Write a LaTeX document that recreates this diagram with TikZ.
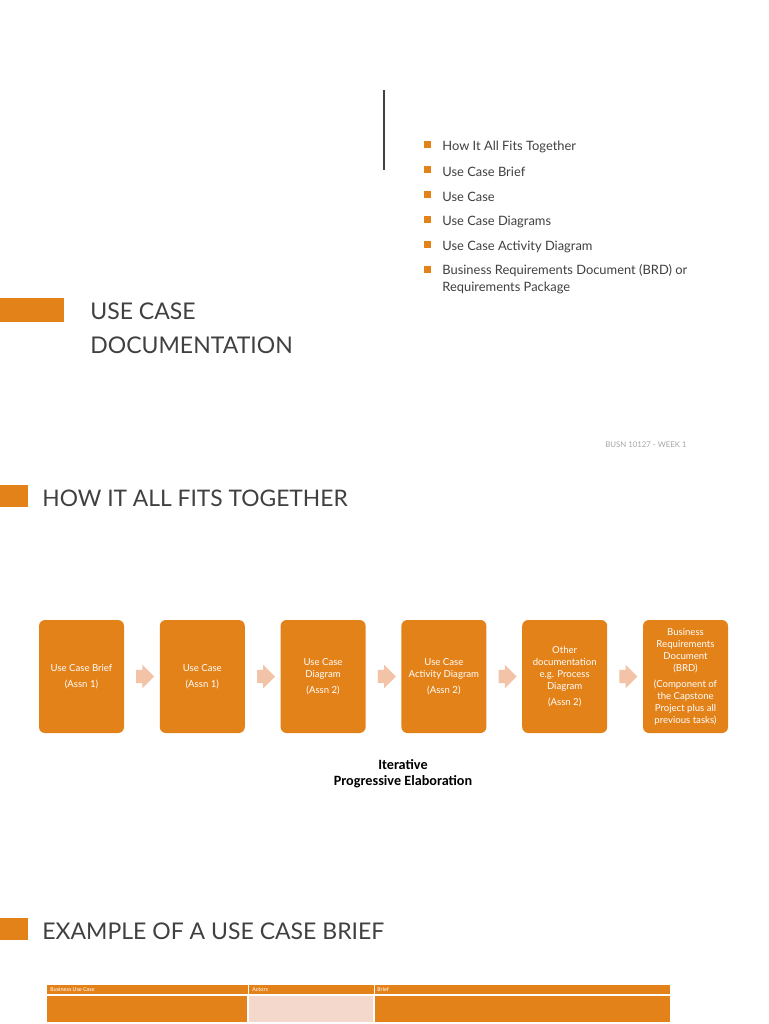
\documentclass[tikz,border=0pt]{standalone}
\usepackage{fontspec}
\setmainfont{Lato}
\newfontfamily\calfont{Carlito}
\usetikzlibrary{positioning,calc,shapes.arrows}
\definecolor{accent}{HTML}{E4821A}
\definecolor{peach}{HTML}{F2C3A7}
\definecolor{paleCell}{HTML}{F4D8CC}
\definecolor{ink}{HTML}{404040}

\begin{document}
\begin{tikzpicture}[x=0.5pt,y=-0.5pt,
  stepbox/.style={fill=accent, rounded corners=3pt, minimum width=42.5pt,
                  minimum height=56.5pt, inner sep=1pt, align=center,
                  text=white, font=\fontsize{4.8}{6}\selectfont},
  flow/.style={single arrow, fill=peach, draw=none, inner xsep=0pt, inner ysep=3.1pt,
               single arrow head extend=2.6pt, minimum height=9pt},
  bullet/.style={fill=accent, minimum size=3.5pt, inner sep=0pt},
  item/.style={anchor=west, inner sep=0pt, text=ink, font=\fontsize{6.45}{8.5}\selectfont},
  heading/.style={anchor=west, inner sep=0pt, text=ink, font=\fontsize{11.5}{17}\selectfont},
  hdr/.style={anchor=west, inner sep=0pt, text=white, font=\calfont\fontsize{3}{3}\selectfont},
]
\useasboundingbox[fill=white] (0,0) rectangle (768,1024);

% title slide
\draw[ink, line width=0.6pt] (384,90) -- (384,170);
\foreach \y/\txt in {145/How It All Fits Together, 170/Use Case Brief, 195/Use Case,
                     220/Use Case Diagrams, 245/Use Case Activity Diagram}
  {\node[bullet] at (427,\y-1) {};
   \node[item] at (442,\y+1.5) {\txt};}
\node[bullet] at (427,269) {};
\node[item, anchor=north west, align=left] at (442,264)
  {Business Requirements Document (BRD) or\\Requirements Package};
\fill[accent] (0,298) rectangle (64,322);
\node[heading, anchor=north west, align=left] (title) at (90,302)
  {USE CASE\\DOCUMENTATION};
\node[inner sep=0pt, text=black!35, font=\fontsize{3.9}{4}\selectfont] (week) at (646,445)
  {BUSN 10127 - WEEK 1};

% how it all fits together
\fill[accent] (0,485) rectangle (28,507);
\node[heading, font=\fontsize{11.4}{17}\selectfont] (fits) at (42,498) {HOW IT ALL FITS TOGETHER};

\node[stepbox] (brief) at (81.5,676.5) {Use Case Brief\\[2pt](Assn 1)};
\node[stepbox, right=17.5pt of brief] (ucase) {Use Case\\[2pt](Assn 1)};
\node[stepbox, right=17.5pt of ucase] (ucd) {Use Case\\Diagram\\[2pt](Assn 2)};
\node[stepbox, right=17.5pt of ucd] (act) {Use Case\\Activity Diagram\\[2pt](Assn 2)};
\node[stepbox, right=17.5pt of act] (other) {Other\\documentation\\e.g. Process\\Diagram\\[2pt](Assn 2)};
\node[stepbox, right=17.5pt of other] (brd) {Business\\Requirements\\Document\\(BRD)\\[2pt](Component of\\the Capstone\\Project plus all\\previous tasks)};
\foreach \a/\b in {brief/ucase, ucase/ucd, ucd/act, act/other, other/brd}
  \node[flow] at ($(\a.east)!0.5!(\b.west)$) {};

\node[align=center, inner sep=0pt, font=\calfont\bfseries\fontsize{7.1}{8}\selectfont] (iter)
  at (403,774) {Iterative\\Progressive Elaboration};

% example of a use case brief
\fill[accent] (0,918) rectangle (28,940);
\node[heading] (example) at (42,931) {EXAMPLE OF A USE CASE BRIEF};

\fill[accent] (47,985) rectangle (670,994);
\fill[accent] (47,996) rectangle (247,1022);
\fill[paleCell] (249,996) rectangle (373,1022);
\fill[accent] (375,996) rectangle (670,1022);
\fill[accent] (47,1024) rectangle (670,1030);
\draw[white, line width=0.5pt] (248,985) -- (248,1024) (374,985) -- (374,1024);
\node[hdr] at (50,989.5) {Business Use Case};
\node[hdr] at (252,989.5) {Actors};
\node[hdr] at (377,989.5) {Brief};
\end{tikzpicture}
\end{document}
